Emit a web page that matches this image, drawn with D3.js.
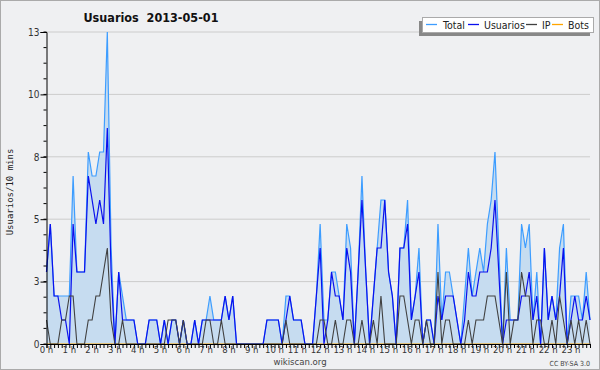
<!DOCTYPE html>
<html><head><meta charset="utf-8">
<script src="https://cdn.jsdelivr.net/npm/d3@7"></script>
<style>body{margin:0;background:#fff}svg{display:block}</style>
</head><body>
<svg id="c" width="600" height="370"></svg>
<script>
const title = "Usuarios  2013-05-01";
const yLabel = "Usuarios/10 mins";
const seriesNames = ["Total", "Usuarios", "IP", "Bots"];
const hourLabels = d3.range(24).map(h => h + " h");
const yTicks = [0, 2.6, 5.2, 7.8, 10.4, 13];
const yTickLabels = ["0", "3", "5", "8", "10", "13"];
const total = [3,5,2,2,2,2,2,7,3,3,3,8,7,7,8,8,13,4,0,3,2,1,1,1,0,0,0,1,1,1,0,1,0,1,1,0,1,0,0,1,0,1,1,2,1,1,1,2,1,2,0,0,0,0,0,0,0,0,1,1,1,1,0,2,2,1,1,1,0,0,0,2,5,1,1,3,3,2,1,5,4,0,3,7,3,0,2,4,6,6,3,2,0,4,4,6,1,2,4,0,1,1,0,5,1,3,3,2,1,0,2,4,2,3,4,3,5,6,8,4,0,4,1,1,1,5,4,5,1,3,0,4,1,2,1,4,5,0,2,2,2,1,3,1];
const usuarios = [3,5,2,2,1,1,0,5,3,3,3,7,6,5,6,5,9,3,0,3,1,1,1,1,0,0,0,1,1,1,0,1,0,1,1,0,1,0,0,1,0,1,1,1,1,1,1,2,1,2,0,0,0,0,0,0,0,0,1,1,1,1,0,1,2,1,1,1,0,0,0,2,4,0,1,3,2,2,1,4,3,0,3,6,3,0,2,4,4,6,3,2,0,4,4,5,1,2,3,0,1,1,0,2,1,2,2,2,1,0,1,3,2,2,3,3,3,4,6,3,0,1,1,1,1,2,2,3,1,2,0,4,1,2,1,2,4,0,1,2,1,1,2,1];
const ip = [1,0,0,0,1,1,2,2,0,0,0,1,1,2,2,3,4,1,0,0,1,0,0,0,0,0,0,0,0,0,0,0,1,1,1,0,1,0,0,0,0,0,1,1,0,0,1,0,0,0,0,0,0,0,0,0,0,0,0,0,0,0,0,1,0,0,0,0,0,0,0,0,1,1,0,0,1,0,0,1,1,0,0,1,0,0,1,0,2,0,0,0,0,2,2,1,0,1,1,0,1,0,0,3,0,1,1,0,0,0,0,1,0,1,1,1,2,2,2,1,0,3,0,1,1,3,2,2,0,1,1,0,0,1,0,2,1,0,1,0,1,0,1,0];
const bots = total.map(() => 0);

const svg = d3.select("#c");
const W = 600, H = 370;
const L = 46.5, R = 590, T = 32, B = 344;
const sans = "DejaVu Sans Condensed, DejaVu Sans, sans-serif";
svg.append("rect").attr("x",0.5).attr("y",0.5).attr("width",W-1).attr("height",H-1)
  .attr("fill","#eff0f2").attr("stroke","#aaaaaa");

const x = d3.scaleLinear().domain([0, total.length - 1]).range([L, R]);
const y = d3.scaleLinear().domain([0, 13]).range([B, T]);

// grid
svg.append("g").selectAll("line").data(yTicks.slice(1)).join("line")
  .attr("x1", L).attr("x2", R).attr("y1", d => y(d)).attr("y2", d => y(d))
  .attr("stroke", "#cccccc").attr("stroke-width", 1);

// series
const idx = d3.range(total.length);
const area = d3.area().x(i => x(i)).y0(y(0)).y1(i => y(total[i]));
svg.append("path").attr("d", area(idx)).attr("fill", "#c6dcf0");
const line = arr => d3.line().x(i => x(i)).y(i => y(arr[i]))(idx);
svg.append("path").attr("d", line(bots)).attr("fill","none").attr("stroke","#ffa500").attr("stroke-width",1.2);
svg.append("path").attr("d", line(total)).attr("fill","none").attr("stroke","#3d9dff").attr("stroke-width",1.2);
svg.append("path").attr("d", line(usuarios)).attr("fill","none").attr("stroke","#0a10ee").attr("stroke-width",1.2);
svg.append("path").attr("d", line(ip)).attr("fill","none").attr("stroke","#404040").attr("stroke-width",1.1);

// y axis
const yAxis = d3.axisLeft(y).tickValues(yTicks).tickSize(6).tickFormat((d,i) => yTickLabels[i]);
const gy = svg.append("g").attr("transform", `translate(${L},0)`).call(yAxis);
gy.select(".domain").attr("stroke","#000");
gy.selectAll(".tick line").attr("stroke","#000");
gy.selectAll("text").attr("font-family",sans).attr("font-size",10).attr("fill","#333").attr("dx", 2);
const minor = d3.range(0, 13.001, 0.65);
svg.append("g").selectAll("line").data(minor).join("line")
  .attr("x1", L - 3).attr("x2", L).attr("y1", d => y(d)).attr("y2", d => y(d)).attr("stroke","#000");

// x axis
const xAxis = d3.axisBottom(x).tickValues(idx).tickSize(4).tickFormat("");
const gx = svg.append("g").attr("transform", `translate(0,${B})`).call(xAxis);
gx.select(".domain").attr("stroke","#000");
gx.selectAll(".tick line").attr("stroke","#000");
svg.append("g").selectAll("text").data(hourLabels).join("text")
  .attr("x", (d,h) => x(h*6)).attr("y", 353).attr("text-anchor","middle")
  .attr("font-family",sans).attr("font-size",9.5).attr("fill","#333").text(d => d);

// title
svg.append("text").attr("x", 151).attr("y", 22).attr("text-anchor","middle")
  .attr("font-family",sans).attr("font-weight","bold").attr("font-size",12.5)
  .attr("fill","#111").style("white-space","pre").text(title);

// y label
svg.append("text").attr("transform","translate(13,192) rotate(-90)").attr("text-anchor","middle")
  .attr("font-family","DejaVu Sans Mono, monospace").attr("font-size",9).attr("fill","#222").text(yLabel);

// legend
const lg = svg.append("g");
lg.append("rect").attr("x",419).attr("y",21).attr("width",171).attr("height",15).attr("fill","#888");
lg.append("rect").attr("x",422.5).attr("y",17.5).attr("width",171).attr("height",15).attr("fill","#fff").attr("stroke","#aaa");
const colors = ["#3d9dff","#0a10ee","#404040","#ffa500"];
const lx = [426, 468, 526, 552];
const tx = [443, 484, 542, 568];
seriesNames.forEach((n,i) => {
  lg.append("line").attr("x1",lx[i]).attr("x2",lx[i]+11).attr("y1",24.5).attr("y2",24.5).attr("stroke",colors[i]).attr("stroke-width",1.3);
  lg.append("text").attr("x",tx[i]).attr("y",29).attr("font-family",sans).attr("font-size",10.5).attr("fill","#222").text(n);
});

svg.append("text").attr("x",300).attr("y",365).attr("text-anchor","middle").attr("font-family",sans).attr("font-size",9.5).attr("fill","#444").text("wikiscan.org");
svg.append("text").attr("x",590).attr("y",366).attr("text-anchor","end").attr("font-family",sans).attr("font-size",7).attr("fill","#444").text("CC BY-SA 3.0");
</script>
</body></html>
